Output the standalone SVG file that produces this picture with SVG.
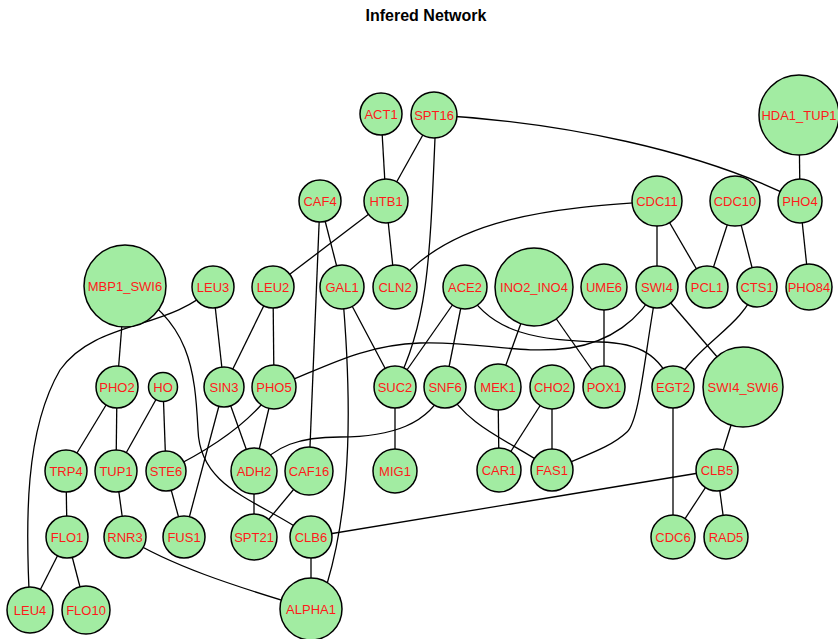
<svg xmlns="http://www.w3.org/2000/svg" width="838" height="639" viewBox="0 0 838 639">
<style>
.n circle{fill:#a2eca2;stroke:#000;stroke-width:1.5}
.n text{fill:#ff1a1a;font-family:"Liberation Sans",Arial,sans-serif;font-size:13px;text-anchor:middle}
#edges line,#edges path{stroke:#000;stroke-width:1.3;fill:none}
.title{font-family:"Liberation Sans",Arial,sans-serif;font-size:16px;font-weight:bold;text-anchor:middle;fill:#000}
</style>
<rect width="838" height="639" fill="#fff"/>
<text class="title" x="426" y="21">Infered Network</text>
<g id="edges">
<line x1="381" y1="114" x2="386" y2="201"/>
<line x1="434" y1="115" x2="386" y2="201"/>
<line x1="799" y1="115" x2="800" y2="201"/>
<line x1="386" y1="201" x2="273" y2="287"/>
<line x1="386" y1="201" x2="395" y2="287"/>
<line x1="320" y1="201" x2="342" y2="287"/>
<line x1="320" y1="201" x2="309" y2="471"/>
<line x1="657" y1="201" x2="657" y2="287"/>
<line x1="657" y1="201" x2="707" y2="287"/>
<line x1="735" y1="201" x2="707" y2="287"/>
<line x1="735" y1="201" x2="757" y2="287"/>
<line x1="800" y1="201" x2="809" y2="287"/>
<line x1="125" y1="286" x2="117" y2="387"/>
<line x1="213" y1="287" x2="224" y2="387"/>
<line x1="273" y1="287" x2="224" y2="387"/>
<line x1="273" y1="287" x2="274" y2="387"/>
<line x1="342" y1="287" x2="395" y2="387"/>
<line x1="465" y1="287" x2="395" y2="387"/>
<line x1="465" y1="287" x2="445" y2="387"/>
<line x1="534" y1="287" x2="498" y2="387"/>
<line x1="534" y1="287" x2="604" y2="387"/>
<line x1="604" y1="287" x2="604" y2="387"/>
<line x1="657" y1="287" x2="743" y2="387"/>
<line x1="673" y1="387" x2="673" y2="537"/>
<line x1="743" y1="387" x2="717" y2="470"/>
<line x1="717" y1="470" x2="673" y2="537"/>
<line x1="717" y1="470" x2="726" y2="537"/>
<line x1="717" y1="470" x2="311" y2="537"/>
<line x1="395" y1="387" x2="395" y2="471"/>
<line x1="498" y1="387" x2="499" y2="470"/>
<line x1="552" y1="387" x2="499" y2="470"/>
<line x1="552" y1="387" x2="552" y2="470"/>
<line x1="117" y1="387" x2="66" y2="471"/>
<line x1="117" y1="387" x2="116" y2="471"/>
<line x1="163" y1="387" x2="116" y2="471"/>
<line x1="163" y1="387" x2="166" y2="471"/>
<line x1="224" y1="387" x2="184" y2="537"/>
<line x1="224" y1="387" x2="254" y2="471"/>
<line x1="274" y1="387" x2="254" y2="471"/>
<path d="M262,404 Q230,440 166,471"/>
<line x1="66" y1="471" x2="67" y2="537"/>
<line x1="116" y1="471" x2="125" y2="537"/>
<line x1="166" y1="471" x2="184" y2="537"/>
<line x1="254" y1="471" x2="254" y2="537"/>
<line x1="309" y1="471" x2="254" y2="537"/>
<line x1="311" y1="537" x2="311" y2="609"/>
<line x1="67" y1="537" x2="30" y2="610"/>
<line x1="67" y1="537" x2="86" y2="610"/>
<path d="M434,115 C560,122 700,150 800,201"/>
<path d="M436,115 C430,250 430,320 395,387"/>
<path d="M657,201 C560,208 450,215 395,287"/>
<path d="M213,287 C170,330 95,320 60,370 C25,430 25,520 30,610"/>
<path d="M125,286 C190,320 195,370 198,430 C200,490 260,500 311,537"/>
<path d="M342,287 C352,400 352,500 327,584"/>
<path d="M465,287 C490,335 540,340 600,342 C640,343 660,355 673,387"/>
<path d="M274,387 C320,370 360,345 420,343 C480,341 520,355 570,348 C610,342 640,320 657,287"/>
<path d="M657,287 C645,350 640,420 627,432 C610,448 585,455 552,470"/>
<path d="M757,287 C740,330 700,340 673,387"/>
<path d="M445,387 C430,425 390,437 340,437 C300,437 275,445 254,471"/>
<path d="M445,387 C470,430 510,440 552,470"/>
<path d="M125,537 C170,565 230,585 311,609"/>
</g>
<g id="ACT1" class="n"><circle cx="381" cy="114" r="21"/><text x="381" y="119">ACT1</text></g>
<g id="SPT16" class="n"><circle cx="434" cy="115" r="23"/><text x="434" y="120">SPT16</text></g>
<g id="HDA1_TUP1" class="n"><circle cx="799" cy="115" r="40"/><text x="799" y="120">HDA1_TUP1</text></g>
<g id="CAF4" class="n"><circle cx="320" cy="201" r="21"/><text x="320" y="206">CAF4</text></g>
<g id="HTB1" class="n"><circle cx="386" cy="201" r="22"/><text x="386" y="206">HTB1</text></g>
<g id="CDC11" class="n"><circle cx="657" cy="201" r="25"/><text x="657" y="206">CDC11</text></g>
<g id="CDC10" class="n"><circle cx="735" cy="201" r="25"/><text x="735" y="206">CDC10</text></g>
<g id="PHO4" class="n"><circle cx="800" cy="201" r="22"/><text x="800" y="206">PHO4</text></g>
<g id="MBP1_SWI6" class="n"><circle cx="125" cy="286" r="41"/><text x="125" y="291">MBP1_SWI6</text></g>
<g id="LEU3" class="n"><circle cx="213" cy="287" r="21"/><text x="213" y="292">LEU3</text></g>
<g id="LEU2" class="n"><circle cx="273" cy="287" r="21"/><text x="273" y="292">LEU2</text></g>
<g id="GAL1" class="n"><circle cx="342" cy="287" r="22"/><text x="342" y="292">GAL1</text></g>
<g id="CLN2" class="n"><circle cx="395" cy="287" r="22"/><text x="395" y="292">CLN2</text></g>
<g id="ACE2" class="n"><circle cx="465" cy="287" r="22"/><text x="465" y="292">ACE2</text></g>
<g id="INO2_INO4" class="n"><circle cx="534" cy="287" r="39"/><text x="534" y="292">INO2_INO4</text></g>
<g id="UME6" class="n"><circle cx="604" cy="287" r="23"/><text x="604" y="292">UME6</text></g>
<g id="SWI4" class="n"><circle cx="657" cy="287" r="21"/><text x="657" y="292">SWI4</text></g>
<g id="PCL1" class="n"><circle cx="707" cy="287" r="21"/><text x="707" y="292">PCL1</text></g>
<g id="CTS1" class="n"><circle cx="757" cy="287" r="20"/><text x="757" y="292">CTS1</text></g>
<g id="PHO84" class="n"><circle cx="809" cy="287" r="23"/><text x="809" y="292">PHO84</text></g>
<g id="PHO2" class="n"><circle cx="117" cy="387" r="21"/><text x="117" y="392">PHO2</text></g>
<g id="HO" class="n"><circle cx="163" cy="387" r="14.5"/><text x="163" y="392">HO</text></g>
<g id="SIN3" class="n"><circle cx="224" cy="387" r="20"/><text x="224" y="392">SIN3</text></g>
<g id="PHO5" class="n"><circle cx="274" cy="387" r="22"/><text x="274" y="392">PHO5</text></g>
<g id="SUC2" class="n"><circle cx="395" cy="387" r="21"/><text x="395" y="392">SUC2</text></g>
<g id="SNF6" class="n"><circle cx="445" cy="387" r="21"/><text x="445" y="392">SNF6</text></g>
<g id="MEK1" class="n"><circle cx="498" cy="387" r="23"/><text x="498" y="392">MEK1</text></g>
<g id="CHO2" class="n"><circle cx="552" cy="387" r="22"/><text x="552" y="392">CHO2</text></g>
<g id="POX1" class="n"><circle cx="604" cy="387" r="21"/><text x="604" y="392">POX1</text></g>
<g id="EGT2" class="n"><circle cx="673" cy="387" r="21"/><text x="673" y="392">EGT2</text></g>
<g id="SWI4_SWI6" class="n"><circle cx="743" cy="387" r="40"/><text x="743" y="392">SWI4_SWI6</text></g>
<g id="TRP4" class="n"><circle cx="66" cy="471" r="21"/><text x="66" y="476">TRP4</text></g>
<g id="TUP1" class="n"><circle cx="116" cy="471" r="21"/><text x="116" y="476">TUP1</text></g>
<g id="STE6" class="n"><circle cx="166" cy="471" r="20"/><text x="166" y="476">STE6</text></g>
<g id="ADH2" class="n"><circle cx="254" cy="471" r="23"/><text x="254" y="476">ADH2</text></g>
<g id="CAF16" class="n"><circle cx="309" cy="471" r="24"/><text x="309" y="476">CAF16</text></g>
<g id="MIG1" class="n"><circle cx="395" cy="471" r="22"/><text x="395" y="476">MIG1</text></g>
<g id="CAR1" class="n"><circle cx="499" cy="470" r="22"/><text x="499" y="475">CAR1</text></g>
<g id="FAS1" class="n"><circle cx="552" cy="470" r="21"/><text x="552" y="475">FAS1</text></g>
<g id="CLB5" class="n"><circle cx="717" cy="470" r="21"/><text x="717" y="475">CLB5</text></g>
<g id="FLO1" class="n"><circle cx="67" cy="537" r="21"/><text x="67" y="542">FLO1</text></g>
<g id="RNR3" class="n"><circle cx="125" cy="537" r="21"/><text x="125" y="542">RNR3</text></g>
<g id="FUS1" class="n"><circle cx="184" cy="537" r="21"/><text x="184" y="542">FUS1</text></g>
<g id="SPT21" class="n"><circle cx="254" cy="537" r="23"/><text x="254" y="542">SPT21</text></g>
<g id="CLB6" class="n"><circle cx="311" cy="537" r="21"/><text x="311" y="542">CLB6</text></g>
<g id="CDC6" class="n"><circle cx="673" cy="537" r="22"/><text x="673" y="542">CDC6</text></g>
<g id="RAD5" class="n"><circle cx="726" cy="537" r="22"/><text x="726" y="542">RAD5</text></g>
<g id="LEU4" class="n"><circle cx="30" cy="610" r="23"/><text x="30" y="615">LEU4</text></g>
<g id="FLO10" class="n"><circle cx="86" cy="610" r="24"/><text x="86" y="615">FLO10</text></g>
<g id="ALPHA1" class="n"><circle cx="311" cy="609" r="31"/><text x="311" y="614">ALPHA1</text></g>
</svg>
